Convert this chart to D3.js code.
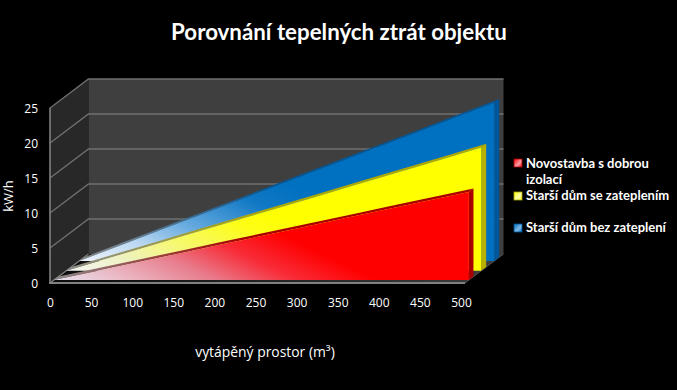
<!DOCTYPE html>
<html><head><meta charset="utf-8">
<script src="https://cdn.jsdelivr.net/npm/d3@7/dist/d3.min.js"></script>
<style>html,body{margin:0;padding:0;background:#000}svg{display:block}</style>
</head><body><svg id="c" width="677" height="390"></svg>
<script>
const xValues = [0,50,100,150,200,250,300,350,400,450,500];
const yTicks = [0,5,10,15,20,25];
const redValues = [0,1.26,2.52,3.78,5.04,6.3,7.56,8.82,10.08,11.34,12.6];
const yellowValues = [0,1.76,3.52,5.28,7.04,8.8,10.56,12.32,14.08,15.84,17.6];
const blueValues = [0,2.26,4.52,6.78,9.04,11.3,13.56,15.82,18.08,20.34,22.6];
const seriesNames = ["Novostavba s dobrou","Starší dům se zateplením","Starší dům bez zateplení"];
const title = "Porovnání tepelných ztrát objektu";
const xTitle = "vytápěný prostor (m³)";
const yTitle = "kW/h";

const svg = d3.select("#c");
const defs = svg.append("defs");
const x = d3.scaleLinear().domain([0,500]).range([50,465]);
const xLabel = d3.scaleLinear().domain([0,500]).range([50,461]);
const y = d3.scaleLinear().domain([0,25]).range([283,108]);
const DX = 38.5, DY = 29;
const px = (v,t)=>x(v)+DX*t, py = (val,t)=>y(val)-DY*t;
const poly = pts => pts.map(p=>p.join(",")).join(" ");
const xMax = xValues[xValues.length-1];

const floorG = defs.append("linearGradient").attr("id","floor").attr("gradientUnits","userSpaceOnUse")
  .attr("x1",60).attr("x2",480).attr("y1",0).attr("y2",0);
floorG.append("stop").attr("offset",0).attr("stop-color","#0c0c0c");
floorG.append("stop").attr("offset",1).attr("stop-color","#3c3c3c");

// walls
svg.append("polygon").attr("points",poly([[px(0,0),py(25,0)],[px(0,1),py(25,1)],[px(0,1),py(0,1)],[px(0,0),py(0,0)]])).attr("fill","#282828");
svg.append("polygon").attr("points",poly([[px(0,1),py(25,1)],[px(500,1),py(25,1)],[px(500,1),py(0,1)],[px(0,1),py(0,1)]])).attr("fill","#3f3f3f");
svg.append("polygon").attr("points",poly([[px(0,0),py(0,0)],[px(500,0),py(0,0)],[px(500,1),py(0,1)],[px(0,1),py(0,1)]])).attr("fill","url(#floor)");

// gridlines
yTicks.forEach(v=>{
  if(v>0) svg.append("polyline").attr("fill","none").attr("stroke","#707070").attr("stroke-width",1.3)
    .attr("points",poly([[px(0,0),py(v,0)],[px(0,1),py(v,1)],[px(500,1),py(v,1)]]));
});
svg.append("line").attr("x1",px(0,0)).attr("x2",px(0,0)).attr("y1",py(25,0)).attr("y2",py(0,0)).attr("stroke","#808080").attr("stroke-width",1.6);
svg.append("line").attr("x1",px(0,0)).attr("x2",px(0,1)).attr("y1",py(0,0)).attr("y2",py(0,1)).attr("stroke","#808080").attr("stroke-width",1.2);
svg.append("line").attr("x1",px(0,0)-1).attr("x2",px(500,0)).attr("y1",py(0,0)).attr("y2",py(0,0)).attr("stroke","#808080").attr("stroke-width",2);
svg.append("line").attr("x1",px(500,0)).attr("x2",px(500,1)).attr("y1",py(0,0)).attr("y2",py(0,1)).attr("stroke","#555").attr("stroke-width",1);

// series, back to front
const series = [
 {id:"blue", values:blueValues, t0:.76, t1:.89, side:"#00569a", top:"#00589c", reach:162,
  stops:[[0,"#eef4fc"],[.25,"#bcd8f2"],[.5,"#62a8de"],[.8,"#1078c4"],[1,"#0070c0"]]},
 {id:"yellow", values:yellowValues, t0:.42, t1:.55, side:"#b8b000", top:"#b0a800", reach:145,
  stops:[[0,"#f4f4f4"],[.25,"#eef2c0"],[.5,"#f6f870"],[.8,"#fdfd18"],[1,"#ffff00"]]},
 {id:"red", values:redValues, t0:.10, t1:.22, side:"#a80000", top:"#a80000", reach:140,
  stops:[[0,"#e8e4f0"],[.25,"#eab4c0"],[.5,"#e87c8c"],[.75,"#f82c38"],[1,"#ff0000"]]}
];
const nx = .433, ny = -.901;
series.forEach(s=>{
  const cx = px(0,s.t0), cy = py(0,s.t0);
  const fg = defs.append("linearGradient").attr("id","f-"+s.id).attr("gradientUnits","userSpaceOnUse")
    .attr("x1",cx).attr("y1",cy).attr("x2",cx+nx*s.reach).attr("y2",cy+ny*s.reach);
  s.stops.forEach(d=>fg.append("stop").attr("offset",d[0]).attr("stop-color",d[1]));
  const tg = defs.append("linearGradient").attr("id","t-"+s.id).attr("gradientUnits","userSpaceOnUse")
    .attr("x1",cx).attr("x2",cx+190).attr("y1",0).attr("y2",0);
  tg.append("stop").attr("offset",0).attr("stop-color","#8c8c8c");
  tg.append("stop").attr("offset",1).attr("stop-color",s.top);
  const last = s.values[s.values.length-1];
  const g = svg.append("g");
  const front = xValues.map((v,i)=>[px(v,s.t0),py(s.values[i],s.t0)]);
  const back = xValues.map((v,i)=>[px(v,s.t1),py(s.values[i],s.t1)]).reverse();
  g.append("polygon").attr("points",poly(front.concat(back))).attr("fill",`url(#t-${s.id})`);
  g.append("polygon").attr("points",poly([
    [px(xMax,s.t0),py(last,s.t0)],[px(xMax,s.t1),py(last,s.t1)],
    [px(xMax,s.t1),py(0,s.t1)],[px(xMax,s.t0),py(0,s.t0)]])).attr("fill",s.side);
  const area = d3.area().x((d,i)=>px(xValues[i],s.t0)).y0(py(0,s.t0)).y1((d)=>py(d,s.t0));
  g.append("path").attr("d",area(s.values)).attr("fill",`url(#f-${s.id})`);
});

// axes
const tickFont = "'Open Sans', sans-serif";
const ax = svg.append("g").attr("transform","translate(0,298)").call(d3.axisBottom(xLabel).tickValues(xValues).tickSize(0).tickPadding(0).tickFormat(d3.format("d")));
const ay = svg.append("g").attr("transform","translate(38,1)").call(d3.axisLeft(y).tickValues(yTicks).tickSize(0).tickPadding(0).tickFormat(d3.format("d")));
[ax,ay].forEach(a=>{
  a.select(".domain").remove();
  a.selectAll("text").attr("fill","#fff").style("font","12px "+tickFont);
});

const txt = (t,xx,yy,size,weight,family,anchor)=>svg.append("text").text(t).attr("x",xx).attr("y",yy)
  .attr("fill","#fff").attr("font-size",size).attr("font-weight",weight).attr("font-family",family).attr("text-anchor",anchor||"start");
txt(title,339,39.5,22.3,700,"Lato, sans-serif","middle");
txt(xTitle,265,357,13.9,400,tickFont,"middle");
txt(yTitle,0,0,13,400,tickFont,"middle").attr("transform","translate(13,196) rotate(-90)");

// legend
const legendY = [159,192,224];
const legendColors = [["#ff0000","#f8a0a8","#a80000"],["#ffff00","#fbfbb0","#a8a800"],["#0070c0","#80b8e8","#00569a"]];
legendColors.forEach((c,i)=>{
  const id="lg"+i;
  const g=defs.append("linearGradient").attr("id",id).attr("x1",0).attr("y1",0).attr("x2",1).attr("y2",1);
  g.append("stop").attr("offset",0).attr("stop-color",c[0]);
  g.append("stop").attr("offset",.6).attr("stop-color",c[1]);
  g.append("stop").attr("offset",1).attr("stop-color",c[0]);
  svg.append("rect").attr("x",514).attr("y",legendY[i]).attr("width",8).attr("height",8)
    .attr("fill",`url(#${id})`).attr("stroke",c[2]).attr("stroke-width",.8);
});
const lf="Lato, sans-serif";
txt(seriesNames[0],526,168,13,700,lf);
txt("izolací",526,184,13,700,lf);
txt(seriesNames[1],526,200,13,700,lf);
txt(seriesNames[2],526,232,13,700,lf);
</script></body></html>
